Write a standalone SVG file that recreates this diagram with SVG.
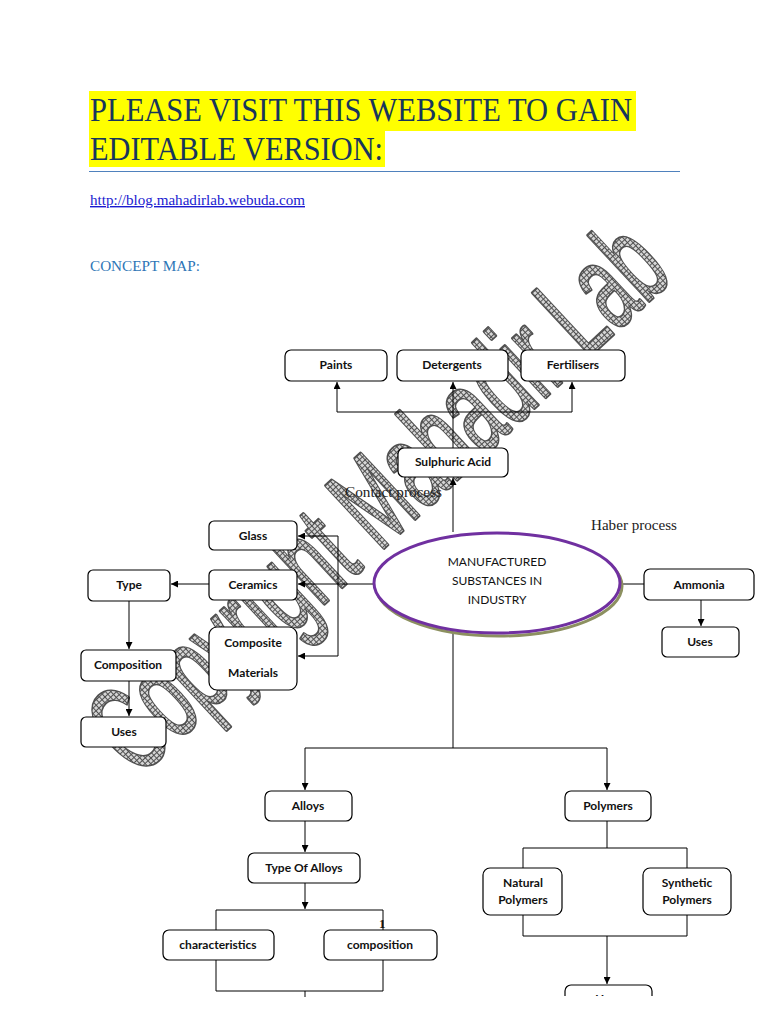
<svg xmlns="http://www.w3.org/2000/svg" width="768" height="1024" viewBox="0 0 768 1024">
<style>
.box{fill:#fff;stroke:#000;stroke-width:1.2}
.bt{font-family:Lato,"Liberation Sans",sans-serif;font-weight:bold;font-size:12px;text-anchor:middle;fill:#111}
.et{font-family:Lato,"Liberation Sans",sans-serif;font-size:12px;text-anchor:middle;fill:#111}
.cn{fill:none;stroke:#000;stroke-width:1}
.ser{font-family:"Liberation Serif",serif;font-size:14px;fill:#222}
.wm{font-family:"Liberation Sans",sans-serif;font-size:124px;text-anchor:middle}
</style>
<defs>
<marker id="arr" viewBox="0 0 10 10" refX="10" refY="5" markerWidth="7" markerHeight="7" markerUnits="userSpaceOnUse" orient="auto"><path d="M0,0L10,5L0,10z" fill="#000"/></marker>
<pattern id="grid" width="4" height="4" patternUnits="userSpaceOnUse"><rect width="4" height="4" fill="#d6d6d6"/><path d="M0,0.5H4M0.5,0V4" stroke="#505050" stroke-width="1"/></pattern>
<clipPath id="page"><rect x="0" y="0" width="768" height="996"/></clipPath>
</defs>
<rect width="768" height="1024" fill="#fff"/>

<g id="header">
<rect x="89" y="91" width="547" height="40" fill="#ffff00"/>
<rect x="89" y="131" width="296" height="36" fill="#ffff00"/>
<text x="90" y="121" font-family="Liberation Serif,serif" font-size="34" fill="#17365d" textLength="542" lengthAdjust="spacingAndGlyphs">PLEASE VISIT THIS WEBSITE TO GAIN</text>
<text x="90" y="160" font-family="Liberation Serif,serif" font-size="34" fill="#17365d" textLength="293" lengthAdjust="spacingAndGlyphs">EDITABLE VERSION:</text>
<rect x="89" y="171" width="591" height="1" fill="#4f81bd"/>
<text x="90" y="205" font-family="Liberation Serif,serif" font-size="14" fill="#1a1ad0" text-decoration="underline" textLength="215" lengthAdjust="spacingAndGlyphs">http://blog.mahadirlab.webuda.com</text>
<text x="90" y="271" font-family="Liberation Serif,serif" font-size="14" fill="#2e75b6" textLength="110" lengthAdjust="spacingAndGlyphs">CONCEPT MAP:</text>
</g>

<g id="watermark" transform="rotate(-43 380 500)">
<text class="wm" x="380" y="538" fill="#505050" stroke="#505050" stroke-width="3.5" stroke-linejoin="round" textLength="735" lengthAdjust="spacingAndGlyphs">Copyright Mahadir Lab</text>
<text class="wm" x="380" y="538" fill="url(#grid)" textLength="735" lengthAdjust="spacingAndGlyphs">Copyright Mahadir Lab</text>
</g>

<g id="connectors">
<path class="cn" d="M453,532V478" marker-end="url(#arr)"/>
<path class="cn" d="M453,448V382" marker-end="url(#arr)"/>
<path class="cn" d="M337,412H572"/>
<path class="cn" d="M337,412V382" marker-end="url(#arr)"/>
<path class="cn" d="M572,412V382" marker-end="url(#arr)"/>
<path class="cn" d="M373,584H298" marker-end="url(#arr)"/>
<path class="cn" d="M338,536V656"/>
<path class="cn" d="M338,536H298" marker-end="url(#arr)"/>
<path class="cn" d="M338,656H298" marker-end="url(#arr)"/>
<path class="cn" d="M209,584H171" marker-end="url(#arr)"/>
<path class="cn" d="M129,601V649" marker-end="url(#arr)"/>
<path class="cn" d="M129,681V716" marker-end="url(#arr)"/>
<path class="cn" d="M620,584H644"/>
<path class="cn" d="M701,600V626" marker-end="url(#arr)"/>
<path class="cn" d="M453,633V748"/>
<path class="cn" d="M305,748H607"/>
<path class="cn" d="M305,748V790" marker-end="url(#arr)"/>
<path class="cn" d="M607,748V790" marker-end="url(#arr)"/>
<path class="cn" d="M305,821V852" marker-end="url(#arr)"/>
<path class="cn" d="M305,883V909" marker-end="url(#arr)"/>
<path class="cn" d="M216,930V910H383V930"/>
<path class="cn" d="M216,960V991H383V960"/>
<path class="cn" d="M305,991V997"/>
<path class="cn" d="M607,821V848"/>
<path class="cn" d="M523,868V848H687V868"/>
<path class="cn" d="M523,915V936H687V915"/>
<path class="cn" d="M607,936V984" marker-end="url(#arr)"/>
</g>

<g id="paints"><rect class="box" x="285" y="350" width="102" height="31" rx="6"/><text class="bt" x="336" y="369">Paints</text></g>
<g id="detergents"><rect class="box" x="397" y="350" width="111" height="31" rx="6"/><text class="bt" x="452" y="369">Detergents</text></g>
<g id="fertilisers"><rect class="box" x="521" y="350" width="104" height="31" rx="6"/><text class="bt" x="573" y="369">Fertilisers</text></g>
<g id="sulphuric"><rect class="box" x="398" y="448" width="110" height="29" rx="6"/><text class="bt" x="453" y="466">Sulphuric Acid</text></g>
<g id="glass"><rect class="box" x="209" y="521" width="88" height="29" rx="5"/><text class="bt" x="253" y="540">Glass</text></g>
<g id="ceramics"><rect class="box" x="209" y="570" width="88" height="30" rx="5"/><text class="bt" x="253" y="589">Ceramics</text></g>
<g id="type"><rect class="box" x="88" y="570" width="82" height="31" rx="5"/><text class="bt" x="129" y="589">Type</text></g>
<g id="composite"><rect class="box" x="209" y="627" width="88" height="63" rx="8"/><text class="bt" x="253" y="647">Composite</text><text class="bt" x="253" y="677">Materials</text></g>
<g id="composition"><rect class="box" x="81" y="650" width="95" height="31" rx="5"/><text class="bt" x="128" y="669">Composition</text></g>
<g id="uses-left"><rect class="box" x="81" y="717" width="85" height="30" rx="5"/><text class="bt" x="124" y="736">Uses</text></g>

<g id="center">
<ellipse cx="499" cy="586" rx="123" ry="50" fill="none" stroke="#8c9060" stroke-width="3"/>
<ellipse cx="497" cy="583" rx="123" ry="50" fill="#fff" stroke="#7030a0" stroke-width="3"/>
<text class="et" x="497" y="566">MANUFACTURED</text>
<text class="et" x="497" y="585">SUBSTANCES IN</text>
<text class="et" x="497" y="604">INDUSTRY</text>
</g>

<g id="ammonia"><rect class="box" x="644" y="569" width="110" height="31" rx="6"/><text class="bt" x="699" y="589">Ammonia</text></g>
<g id="uses-right"><rect class="box" x="662" y="627" width="77" height="30" rx="5"/><text class="bt" x="700" y="646">Uses</text></g>

<g id="alloys"><rect class="box" x="265" y="791" width="87" height="30" rx="6"/><text class="bt" x="308" y="810">Alloys</text></g>
<g id="type-of-alloys"><rect class="box" x="248" y="853" width="112" height="30" rx="6"/><text class="bt" x="304" y="872">Type Of Alloys</text></g>
<g id="characteristics"><rect class="box" x="163" y="930" width="111" height="30" rx="6"/><text class="bt" x="218" y="949">characteristics</text></g>
<g id="composition2"><rect class="box" x="324" y="930" width="113" height="30" rx="6"/><text class="bt" x="380" y="949">composition</text></g>
<g id="polymers"><rect class="box" x="565" y="791" width="86" height="30" rx="6"/><text class="bt" x="608" y="810">Polymers</text></g>
<g id="natural"><rect class="box" x="483" y="868" width="79" height="47" rx="7"/><text class="bt" x="523" y="887">Natural</text><text class="bt" x="523" y="904">Polymers</text></g>
<g id="synthetic"><rect class="box" x="643" y="868" width="88" height="47" rx="7"/><text class="bt" x="687" y="887">Synthetic</text><text class="bt" x="687" y="904">Polymers</text></g>
<g id="uses-bottom" clip-path="url(#page)"><rect class="box" x="565" y="985" width="87" height="30" rx="6"/><text class="bt" x="608" y="1003">Uses</text></g>

<text x="379" y="928" font-family="Liberation Serif,serif" font-size="13" font-weight="bold" fill="#111">1</text>
<text class="ser" x="345" y="497" textLength="97" lengthAdjust="spacingAndGlyphs">Contact process</text>
<text class="ser" x="591" y="530" textLength="86" lengthAdjust="spacingAndGlyphs">Haber process</text>
</svg>
